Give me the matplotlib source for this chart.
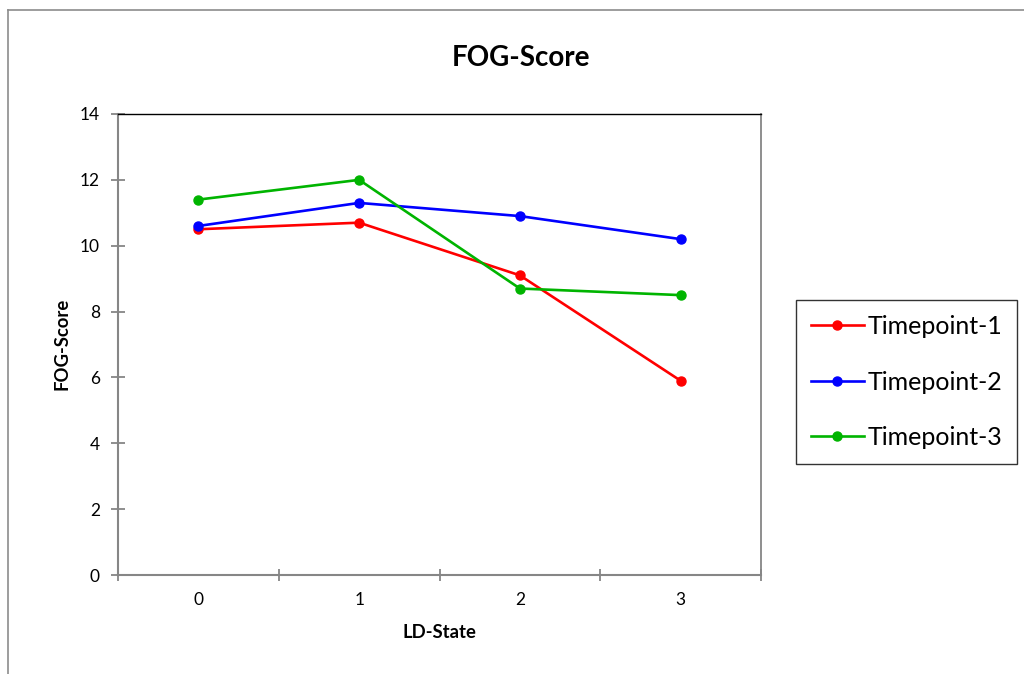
import matplotlib
matplotlib.use("Agg")
import matplotlib.pyplot as plt
from matplotlib.lines import Line2D
from matplotlib.ticker import FixedLocator, NullFormatter

categories = ["0", "1", "2", "3"]
timepoint_1 = [10.5, 10.7, 9.1, 5.9]
timepoint_2 = [10.6, 11.3, 10.9, 10.2]
timepoint_3 = [11.4, 12.0, 8.7, 8.5]
series_names = ["Timepoint-1", "Timepoint-2", "Timepoint-3"]
series_colors = ["#FF0000", "#0000FF", "#00B400"]
y_ticks = [0, 2, 4, 6, 8, 10, 12, 14]

plt.rcParams['font.family'] = ['Lato', 'DejaVu Sans']

W, H = 1024, 674
fig = plt.figure(figsize=(W / 100, H / 100), dpi=100)
fig.patch.set_facecolor("white")

# outer chart border (only top and left visible)
fig.add_artist(Line2D([8 / W, 8 / W], [0, 1 - 10 / H], color="#8c8c8c", lw=1.2, transform=fig.transFigure))
fig.add_artist(Line2D([8 / W, 1], [1 - 10 / H, 1 - 10 / H], color="#8c8c8c", lw=1.2, transform=fig.transFigure))

ax = fig.add_axes([118 / W, 1 - 575 / H, (761 - 118) / W, (575 - 114) / H])
x = list(range(len(categories)))
for vals, name, col in zip([timepoint_1, timepoint_2, timepoint_3], series_names, series_colors):
    ax.plot(x, vals, color=col, lw=1.9, marker="o", markersize=6.5, label=name, zorder=3)

ax.set_xlim(-0.5, len(categories) - 0.5)
ax.set_ylim(0, 14)
ax.set_yticks(y_ticks)
ax.set_yticklabels([str(v) for v in y_ticks])
ax.set_xticks(x)
ax.set_xticklabels(categories)
ax.xaxis.set_minor_locator(FixedLocator([i - 0.5 for i in range(len(categories) + 1)]))
ax.xaxis.set_minor_formatter(NullFormatter())
ax.tick_params(axis="x", which="major", length=0, pad=12, labelsize=12.5)
ax.tick_params(axis="x", which="minor", length=9, width=1.3, direction="inout", color="#868686")
ax.tick_params(axis="y", which="major", length=10, width=1.3, direction="inout", color="#868686", pad=8, labelsize=12.5)

for s in ["left", "bottom"]:
    ax.spines[s].set_color("#868686")
    ax.spines[s].set_linewidth(1.5)
ax.spines["top"].set_color("black")
ax.spines["top"].set_linewidth(1.0)
ax.spines["right"].set_color("#868686")
ax.spines["right"].set_linewidth(1.3)

fig.text(521 / W, 1 - 58 / H, "FOG-Score", ha="center", va="center", fontsize=20, fontweight="bold")
fig.text(62 / W, 1 - 344 / H, "FOG-Score", ha="center", va="center", rotation=90, fontsize=13.3, fontweight="bold")
fig.text(439 / W, 1 - 633 / H, "LD-State", ha="center", va="center", fontsize=13.3, fontweight="bold")

leg = fig.legend(loc="upper left", bbox_to_anchor=(796 / W, 1 - 300 / H), bbox_transform=fig.transFigure,
                 borderaxespad=0, frameon=True, fancybox=False, fontsize=18,
                 handlelength=2.1, handletextpad=0.15, labelspacing=1.3, borderpad=0.6)
leg.get_frame().set_edgecolor("black")
leg.get_frame().set_linewidth(1.0)

fig.savefig("out.png", dpi=100)
